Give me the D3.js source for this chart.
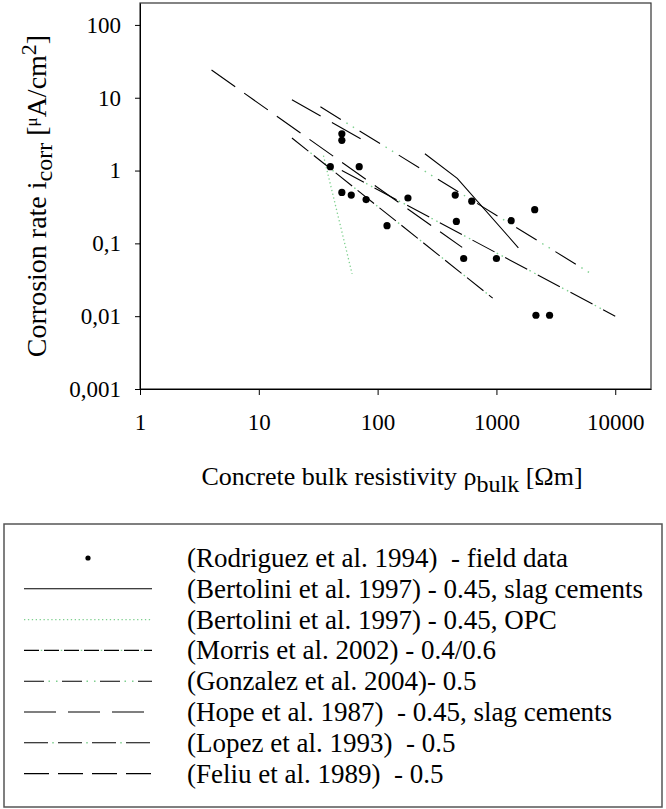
<!DOCTYPE html>
<html>
<head>
<meta charset="utf-8">
<script src="https://cdn.jsdelivr.net/npm/d3@7"></script>
<style>
  body { margin: 0; background: #fff; }
  text { font-family: "Liberation Serif", "Times New Roman", serif; fill: #000; white-space: pre; }
</style>
</head>
<body>
<div id="chart"></div>
<script>
// axis ticks
var xTicks = [1, 10, 100, 1000, 10000];
var yTicks = [0.001, 0.01, 0.1, 1, 10, 100];
var yTickLabels = ["0,001", "0,01", "0,1", "1", "10", "100"];

// Rodriguez et al. 1994 field data (resistivity Ohm m, icorr uA/cm2)
var fieldRho = [40, 50, 50, 70, 50, 60, 80, 120, 180, 450, 620, 460, 530, 1000, 1330, 2100, 2150, 2800];
var fieldIcorr = [1.13, 3.2, 2.6, 1.13, 0.5, 0.46, 0.4, 0.175, 0.42, 0.46, 0.38, 0.2, 0.062, 0.062, 0.205, 0.29, 0.0103, 0.0103];

// literature relations, [rho, icorr] pairs
var bertolSlag = [[250, 1.7], [468, 0.78], [1530, 0.087]];
var bertolOpc = [[35, 1.6], [61, 0.038]];
var morris = [[19, 2.8], [930, 0.0177]];
var gonzalez = [[50, 1.0], [10000, 0.01]];
var hope = [[19, 9.4], [76, 2.6]];
var lopez = [[33, 7.5], [6500, 0.037]];
var feliu = [[4, 24], [515, 0.088]];

var legendLabels = [
  "(Rodriguez et al. 1994)  - field data",
  "(Bertolini et al. 1997) - 0.45, slag cements",
  "(Bertolini et al. 1997) - 0.45, OPC",
  "(Morris et al. 2002) - 0.4/0.6",
  "(Gonzalez et al. 2004)- 0.5",
  "(Hope et al. 1987)  - 0.45, slag cements",
  "(Lopez et al. 1993)  - 0.5",
  "(Feliu et al. 1989)  - 0.5"
];

var green = "#7fd08f";
var W = 666, H = 809;

// dash patterns as drawn in the plot (black dash, gap, green dots in gap)
var plotStyles = [
  null,
  { dash: null },
  { green: true },
  { dash: [21, 7], dots: 1 },
  { dash: [25, 12], dots: 2 },
  { dash: [33, 13] },
  { dash: [24, 22], dots: 2 },
  { dash: [29, 11] }
];
// the swatches in the key are drawn a bit differently
var keyStyles = [
  null,
  { dash: null },
  { green: true },
  { dash: [15, 5], dots: 1 },
  { dash: [20, 18], dots: 2 },
  { dash: [32, 12] },
  { dash: [24, 10], dots: 1 },
  { dash: [25, 9] }
];
var lines = [null, bertolSlag, bertolOpc, morris, gonzalez, hope, lopez, feliu];

var svg = d3.select("#chart").append("svg")
  .attr("width", W).attr("height", H);
svg.append("rect").attr("width", W).attr("height", H).attr("fill", "#fff");

var x = d3.scaleLog().domain([1, 20000]).range([140, 651]);
var y = d3.scaleLog().domain([0.001, 200]).range([389, 3]);

// plot frame
svg.append("rect")
  .attr("x", 140).attr("y", 3)
  .attr("width", 511).attr("height", 386)
  .attr("fill", "none").attr("stroke", "#333").attr("stroke-width", 1.2);

var xAxis = svg.append("g")
  .attr("transform", "translate(0,389)")
  .call(d3.axisBottom(x).tickValues(xTicks).tickFormat(d3.format("d")).tickSize(6).tickSizeOuter(0));
xAxis.selectAll("text").attr("y", 41).attr("dy", 0).style("font-size", "23px")
  .style("font-family", "Liberation Serif");

var yAxis = svg.append("g")
  .attr("transform", "translate(140,0)")
  .call(d3.axisLeft(y).tickValues(yTicks).tickFormat(function (d, i) { return yTickLabels[i]; }).tickSize(5).tickSizeOuter(0));
yAxis.selectAll("text").attr("x", -19).style("font-size", "23px")
  .style("font-family", "Liberation Serif");
svg.selectAll(".domain").attr("stroke", "#000");

// axis titles
var xt = svg.append("text")
  .attr("x", 392).attr("y", 485)
  .attr("text-anchor", "middle")
  .style("font-size", "26px");
xt.append("tspan").text("Concrete bulk resistivity \u03c1");
xt.append("tspan").attr("dy", 7).style("font-size", "24px").text("bulk");
xt.append("tspan").attr("dy", -7).text(" [\u03a9m]");

var yt = svg.append("text")
  .attr("transform", "translate(46,196) rotate(-90)")
  .attr("text-anchor", "middle")
  .style("font-size", "28px");
yt.append("tspan").text("Corrosion rate i");
yt.append("tspan").attr("dy", 6).style("font-size", "24px").text("corr");
yt.append("tspan").attr("dy", -6).text(" [");
yt.append("tspan").attr("dy", -9).style("font-size", "17px").text("\u03bc");
yt.append("tspan").attr("dy", 9).text("A/cm");
yt.append("tspan").attr("dy", -10).style("font-size", "22px").text("2");
yt.append("tspan").attr("dy", 10).text("]");

function drawStyled(g, d, st, lineFn) {
  if (st.green) {
    g.append("path").datum(d).attr("d", lineFn)
      .attr("fill", "none").attr("stroke", green).attr("stroke-width", 1.3)
      .attr("stroke-dasharray", "1.3,2.6");
    return;
  }
  g.append("path").datum(d).attr("d", lineFn)
    .attr("fill", "none").attr("stroke", "#000").attr("stroke-width", 1.1)
    .attr("stroke-dasharray", st.dash ? st.dash.join(",") : null);
  if (st.dots) {
    var dl = st.dash[0], gp = st.dash[1], per = dl + gp;
    var pat, span;
    if (st.dots === 1) { pat = [1.5, per - 1.5]; span = 1.5; }
    else { var s = Math.min(6, gp / 3); pat = [1.5, s, 1.5, per - 3 - s]; span = 3 + s; }
    var off = dl + (gp - span) / 2;
    g.append("path").datum(d).attr("d", lineFn)
      .attr("fill", "none").attr("stroke", green).attr("stroke-width", 1.4)
      .attr("stroke-dasharray", pat.join(","))
      .attr("stroke-dashoffset", -off);
  }
}

var line = d3.line()
  .x(function (d) { return x(d[0]); })
  .y(function (d) { return y(d[1]); });

var plot = svg.append("g");
for (var i = 1; i < lines.length; i++) {
  drawStyled(plot, lines[i], plotStyles[i], line);
}

plot.selectAll("circle")
  .data(fieldRho)
  .enter().append("circle")
  .attr("cx", function (d) { return x(d); })
  .attr("cy", function (d, i) { return y(fieldIcorr[i]); })
  .attr("r", 3.6)
  .attr("fill", "#000");

// legend
svg.append("rect")
  .attr("x", 4).attr("y", 524)
  .attr("width", 658).attr("height", 283)
  .attr("fill", "none").attr("stroke", "#555").attr("stroke-width", 1.5);

var lg = svg.append("g");
var swatch = d3.line().x(function (d) { return d[0]; }).y(function (d) { return d[1]; });
legendLabels.forEach(function (lab, i) {
  var cy = 558 + i * 30.8;
  if (i === 0) {
    lg.append("circle").attr("cx", 88).attr("cy", cy).attr("r", 2.6).attr("fill", "#000");
  } else {
    drawStyled(lg, [[24, cy], [152, cy]], keyStyles[i], swatch);
  }
  lg.append("text").attr("x", 187).attr("y", cy + 9)
    .style("font-size", "27px").text(lab);
});
</script>
</body>
</html>
